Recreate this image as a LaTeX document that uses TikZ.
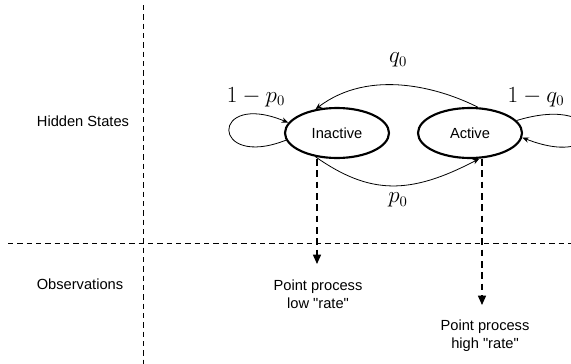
\documentclass[tikz,border=0pt]{standalone}
\usepackage{fontspec}
\setmainfont{Liberation Sans}[Ligatures=TeXOff]
\usetikzlibrary{arrows.meta,shapes.geometric}
\begin{document}
\begin{tikzpicture}[x=0.75pt,y=-0.75pt,
  state/.style={ellipse,draw,line width=1.6pt,minimum width=104*0.75pt,minimum height=50*0.75pt,inner sep=0pt,font=\fontsize{11}{13}\selectfont},
  txt/.style={font=\fontsize{11}{13.5}\selectfont,align=center},
  mlab/.style={font=\fontsize{16}{19}\selectfont},
  trans/.style={-{Stealth[length=5pt,width=4pt]},line width=0.6pt},
  obsarrow/.style={dash pattern=on 5pt off 3.5pt,line width=1.1pt,-{Triangle[length=7pt,width=6pt]}},
  divider/.style={dash pattern=on 4pt off 3pt,line width=0.6pt}]
\useasboundingbox (0,0) rectangle (571,364);
% dividers
\coordinate (vtop) at (143,5);
\coordinate (vbot) at (143,364);
\coordinate (hl) at (8,243);
\coordinate (hr) at (571,243);
\draw[divider] (vtop) -- (vbot);
\draw[divider] (hl) -- (hr);
\node[txt] (hs) at (83,121) {Hidden States};
\node[txt] (ob) at (80,284) {Observations};
% states
\node[state] (inact) at (337,133) {Inactive};
\node[state] (act) at (470,133) {Active};
% transitions
\draw[trans] (act.73) .. controls (440,88) and (370,68) .. (inact.132);
\node[mlab] (q) at (398,60) {$q_0$};
\draw[trans] (inact.228) .. controls (370,195) and (410,195) .. (act.290);
\node[mlab] (p) at (398,200) {$p_0$};
\draw[trans] (inact.188) .. controls (210,170) and (210,90) .. (inact.168);
\node[mlab] (lp) at (256,97) {$1-p_0$};
\draw[trans] (act.15) .. controls (610,92) and (610,172) .. (act.355);
\node[mlab] (lq) at (536,97) {$1-q_0$};
% observations
\node[txt] (o1) at (318,294) {Point process\\low "rate"};
\node[txt] (o2) at (485,336) {Point process\\high "rate"};
\coordinate (o1top) at (317,264);
\coordinate (o2top) at (482,305);
\draw[obsarrow] (inact.south -| o1top) -- (o1top);
\draw[obsarrow] (act.south -| o2top) -- (o2top);
\end{tikzpicture}
\end{document}
